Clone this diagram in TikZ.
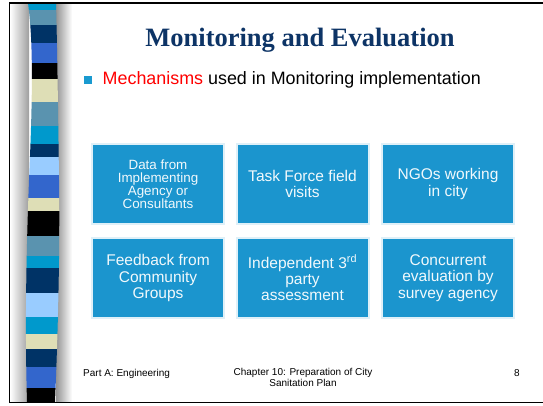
\documentclass[tikz,border=0pt]{standalone}
\usepackage{fontspec}
\setmainfont{Liberation Serif}
\newfontfamily\arial{Liberation Sans}

\definecolor{boxblue}{RGB}{27,149,206}
\definecolor{titlenavy}{HTML}{0D3466}
\definecolor{bulletblue}{HTML}{1A9AD0}
\definecolor{sLB}{HTML}{0099CC}
\definecolor{sSB}{HTML}{5A93AF}
\definecolor{sNV}{HTML}{003366}
\definecolor{sRB}{HTML}{3366CC}
\definecolor{sBK}{HTML}{000000}
\definecolor{sBG}{HTML}{DEDEB6}
\definecolor{sPB}{HTML}{99CCFF}

\tikzset{
  mbox/.style={fill=boxblue, minimum width=130pt, minimum height=78pt,
    inner sep=0pt, align=center, text=white!94!boxblue,
    font=\arial\fontsize{15.5}{16.4}\selectfont,
    preaction={draw=boxblue!14, line width=4pt}},
  tightbox/.style={mbox, font=\arial\fontsize{13.4}{13}\selectfont},
  foot/.style={font=\arial\fontsize{10}{10.5}\selectfont, inner sep=0pt, align=center},
  frame/.style={line width=1.8pt, black}
}

\begin{document}
\begin{tikzpicture}[x=1pt, y=-1pt]
\useasboundingbox (0,0) rectangle (543,405);
\fill[white] (0,0) rectangle (543,405);

% shaded gutter either side of the striped ribbon
\shade[left color=white, right color=black!38] (10,3) rectangle (29,402);
\shade[left color=black!42, right color=white] (56,3) rectangle (72,402);

% the striped ribbon, slightly wavy
\begin{scope}
  \clip (28,3) .. controls (33,40) and (33,90) .. (29,180)
        .. controls (26,260) and (25,330) .. (27,402)
        -- (55,402) .. controls (58,330) and (60,250) .. (59,180)
        .. controls (58,100) and (57,40) .. (56,3) -- cycle;
  \foreach \ya/\yb/\c in {
      3/10/sLB, 10/25/sSB, 25/43/sNV, 43/63/sRB, 63/79/sBK, 79/102/sBG,
      102/126/sSB, 126/144/sLB, 144/157/sNV, 157/175/sPB, 175/198/sRB,
      198/211/sBG, 211/236/sBK, 236/256/sSB, 256/268/sLB, 268/293/sNV,
      293/317/sPB, 317/334/sLB, 334/349/sBG, 349/367/sNV, 367/388/sRB,
      388/402/sBK}
    \fill[\c] (20,\ya) rectangle (65,\yb);
\end{scope}

% slide frame
\draw[frame] (543,3.3) -- (9.5,3.3) -- (9.5,402.5) -- (543,402.5);

% title and bullet
\node[text=titlenavy, font=\fontsize{26.5}{30}\selectfont\bfseries, inner sep=0pt]
  (title) at (300,40) {Monitoring and Evaluation};
\node[fill=bulletblue, minimum size=8pt, inner sep=0pt] (bul) at (87.5,79.5) {};
\node[anchor=west, inner sep=0pt, font=\arial\fontsize{17.9}{20}\selectfont]
  (point) at (102.5,80) {\textcolor{red}{Mechanisms} used in Monitoring implementation};

% mechanism boxes
\node[tightbox] (b1) at (158,184) {Data from\\Implementing\\Agency or\\Consultants};
\node[mbox] (b2) at (302.5,184) {Task Force field\\visits};
\node[mbox] (b3) at (448,184) {NGOs working\\in city};
\node[mbox] (b4) at (158,278) {Feedback from\\Community\\Groups};
\node[mbox] (b5) at (302.5,278) {Independent 3\textsuperscript{rd}\\party\\assessment};
\node[mbox] (b6) at (448,278) {Concurrent\\evaluation by\\survey agency};

% footer
\node[foot, anchor=west] (f1) at (83,373.5) {Part A: Engineering};
\node[foot, anchor=north] (f2) at (303,368.5) {Chapter 10: Preparation of City\\Sanitation Plan};
\node[foot] (f3) at (517,373.5) {8};
\end{tikzpicture}
\end{document}
